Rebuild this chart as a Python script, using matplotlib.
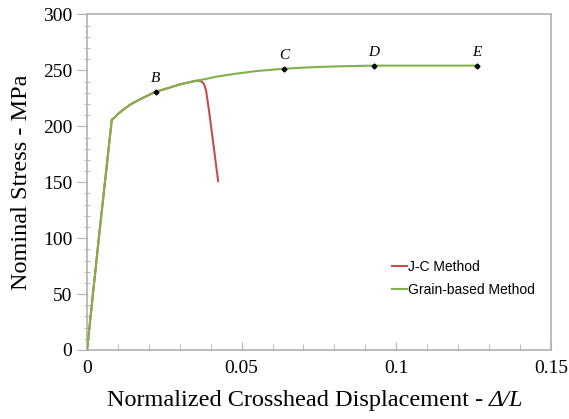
import matplotlib
matplotlib.use("Agg")
import matplotlib.pyplot as plt
from matplotlib.ticker import MultipleLocator

# Grain-based method curve
grain_x = [0.0, 0.004, 0.008, 0.009, 0.010, 0.012, 0.014, 0.017, 0.020, 0.0223, 0.026, 0.030, 0.036,
           0.042, 0.048, 0.055, 0.0637, 0.072, 0.082, 0.0928, 0.110, 0.126]
grain_y = [0.0, 105, 206, 208, 211, 215.5, 219.5, 224, 228, 231, 234, 237.5, 241,
           244.5, 247, 249.5, 251.5, 252.8, 253.7, 254.3, 254.3, 254.3]

# J-C method curve
jc_x = [0.0, 0.004, 0.008, 0.009, 0.010, 0.012, 0.014, 0.017, 0.020, 0.0223, 0.026, 0.030, 0.0355,
        0.0368, 0.0378, 0.0385, 0.0395, 0.0410, 0.0424]
jc_y = [0.0, 105, 206, 208, 211, 215.5, 219.5, 224, 228, 231, 234, 237.5, 241,
        240.5, 238, 232, 213, 181, 151]

# Labelled points
pt_labels = ["B", "C", "D", "E"]
pt_x = [0.0223, 0.0637, 0.0928, 0.126]
pt_y = [231, 251.5, 254.3, 254.3]

fig = plt.figure(figsize=(5.69, 4.19), dpi=100)
ax = fig.add_axes([0.153, 0.1647, 0.815, 0.8007])

ax.plot(jc_x, jc_y, color="#c0504d", lw=1.5, label="J-C Method", zorder=2)
ax.plot(grain_x, grain_y, color="#7fb24a", lw=1.5, label="Grain-based Method", zorder=3)
ax.plot(pt_x, pt_y, ls="none", marker="D", ms=2.5, color="black", zorder=4)
for lab, x, y in zip(pt_labels, pt_x, pt_y):
    ax.annotate(lab, (x, y), xytext=(0, 5), textcoords="offset points", ha="center", va="bottom",
                family="Liberation Serif", style="italic", fontsize=11)

ax.set_xlim(0, 0.15)
ax.set_ylim(0, 300)
ax.xaxis.set_major_locator(MultipleLocator(0.05))
ax.xaxis.set_minor_locator(MultipleLocator(0.01))
ax.yaxis.set_major_locator(MultipleLocator(50))
ax.yaxis.set_minor_locator(MultipleLocator(10))
ax.set_xticks([0, 0.05, 0.1, 0.15])
ax.set_xticklabels(["0", "0.05", "0.1", "0.15"])

for s in ax.spines.values():
    s.set_color("#b0b0b0")
    s.set_linewidth(1.2)

ax.tick_params(axis="both", which="major", colors="#b0b0b0", labelcolor="black", labelsize=14, length=6)
ax.tick_params(axis="y", which="minor", colors="#b0b0b0", direction="inout", length=5)
ax.tick_params(axis="x", which="major", direction="in", length=6, pad=7)
ax.tick_params(axis="x", which="minor", colors="#b0b0b0", direction="in", length=4)
ax.tick_params(axis="y", which="major", direction="out", length=7)
for lbl in ax.get_xticklabels() + ax.get_yticklabels():
    lbl.set_family("Liberation Serif")

xl = ax.set_xlabel("Normalized Crosshead Displacement - ", family="Liberation Serif", fontsize=17.5)
ax.xaxis.set_label_coords(0.455, -0.12)
xl.set_va("top")
ax.annotate("Δ/L", xy=(1, 0), xycoords=xl, ha="left", va="bottom",
            family="Liberation Serif", style="italic", fontsize=17.5)
ax.set_ylabel("Nominal Stress - MPa", family="Liberation Serif", fontsize=17.5, labelpad=8)

leg = ax.legend(loc="lower left", bbox_to_anchor=(0.63, 0.12), frameon=False, handlelength=1.1,
                handletextpad=0.1, labelspacing=0.7, prop={"family": "Liberation Sans", "size": 10})

fig.savefig("out.png", dpi=100)
